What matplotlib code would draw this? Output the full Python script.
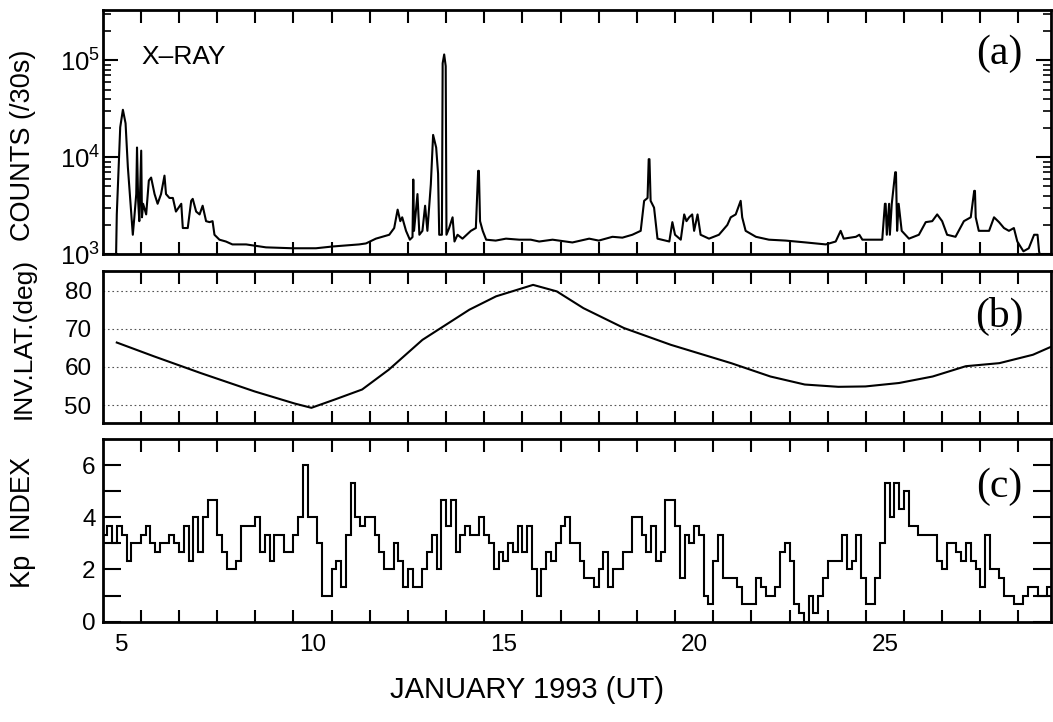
import numpy as np
import matplotlib
matplotlib.use("Agg")
import matplotlib.pyplot as plt
from matplotlib.ticker import FixedLocator, LogLocator, NullFormatter

plt.rcParams['font.family'] = ['Liberation Sans', 'DejaVu Sans']

# --- (a) X-ray counts per 30 s ---
xr_day = [4.85, 4.87, 4.96, 5.03, 5.10, 5.16, 5.25, 5.29, 5.33, 5.38, 5.40, 5.43, 5.46,
          5.51, 5.53, 5.56, 5.64, 5.71, 5.77, 5.86, 5.94, 6.03, 6.12, 6.16, 6.25, 6.34,
          6.42, 6.56, 6.60, 6.73, 6.82, 6.86, 6.95, 7.04, 7.12, 7.21, 7.30, 7.38, 7.43,
          7.56, 7.73, 7.90, 8.26, 8.78, 9.48, 10.09, 10.53, 11.22,
          11.40, 11.66, 12.01, 12.14, 12.23, 12.30, 12.35, 12.45, 12.55, 12.62, 12.64, 12.66,
          12.75, 12.80, 12.88, 12.95, 13.01, 13.10, 13.16, 13.24, 13.29, 13.32, 13.39,
          13.41, 13.45, 13.49, 13.51, 13.58, 13.67, 13.72, 13.80, 13.93, 14.15, 14.28,
          14.34, 14.36, 14.39, 14.46, 14.55, 14.80, 15.07, 15.42, 15.72, 15.94, 16.29,
          16.81, 17.25, 17.50, 17.86, 18.12, 18.38, 18.60, 18.69, 18.78, 18.81, 18.83,
          18.86, 18.95, 19.04, 19.35, 19.43, 19.50, 19.65, 19.74, 19.80, 19.87, 19.95,
          20.00, 20.09, 20.17, 20.39, 20.65, 20.87, 20.96, 21.09, 21.22, 21.26, 21.35,
          21.62, 21.96, 22.40, 22.93, 23.45, 23.71, 23.84, 23.92, 24.24, 24.33, 24.41,
          24.93, 25.00, 25.02, 25.05, 25.11, 25.13, 25.18, 25.27, 25.29, 25.32, 25.36,
          25.44, 25.63, 25.89, 26.07, 26.24, 26.37, 26.50, 26.63, 26.85, 27.07, 27.25,
          27.34, 27.36, 27.38, 27.46, 27.73, 27.86, 27.99, 28.12, 28.25, 28.38, 28.47,
          28.55, 28.63, 28.77, 28.91, 29.00, 29.04, 29.08]
xr_cnt = [900, 2570, 20400, 30900, 22400, 7940, 2570, 1585, 2400, 4170, 12600, 3550, 2190,
          11700, 2400, 3310, 2570, 5750, 6170, 4170, 3310, 4170, 6460, 4170, 3800, 3800,
          2750, 3310, 1860, 1860, 3550, 3720, 2750, 2570, 3160, 2190, 2140, 2190, 1585,
          1410, 1350, 1260, 1260, 1175, 1150, 1150, 1200, 1260,
          1290, 1445, 1585, 1860, 2880, 2190, 2400, 1740, 1410, 1500, 5890, 1740,
          4170, 1585, 1740, 3160, 1740, 5250, 17000, 12600, 6760, 1585, 1585,
          93300, 115000, 87100, 1585, 1860, 2400, 1350, 1585, 1445, 1740, 1860,
          7240, 7240, 2190, 1740, 1410, 1380, 1445, 1410, 1410, 1350, 1410,
          1320, 1445, 1380, 1510, 1480, 1585, 1740, 3550, 3800, 9550, 9550,
          3550, 3020, 1445, 1350, 2140, 1585, 1410, 2570, 2190, 2400, 2570,
          1740, 2570, 1585, 1445, 1585, 2000, 2400, 2570, 3550, 2400, 1740,
          1510, 1410, 1380, 1320, 1260, 1350, 1740, 1445, 1510, 1585, 1410,
          1410, 3310, 3310, 1585, 3310, 1585, 3310, 7000, 7000, 1740, 3310,
          1740, 1445, 1585, 2140, 2190, 2570, 2190, 1585, 1510, 2190, 2400,
          4500, 4500, 2400, 1740, 1740, 2400, 2140, 1860, 1740, 1860, 1350,
          1200, 1070, 1150, 1585, 1585, 1070, 900]

# --- (b) invariant latitude (deg) ---
il_day = [4.87, 5.84, 7.07, 8.48, 9.54, 9.97, 10.59, 11.30, 12.00, 12.88, 14.11, 14.81,
          15.78, 16.40, 17.10, 18.16, 19.39, 20.97, 22.00, 22.90, 23.78, 24.49, 25.37,
          26.25, 27.12, 28.00, 28.88, 29.38]
il_deg = [66.4, 62.8, 58.4, 53.6, 50.4, 49.3, 51.5, 54.1, 59.3, 67.1, 75.0, 78.5,
          81.5, 79.8, 75.4, 70.2, 65.8, 61.0, 57.5, 55.4, 54.8, 54.9, 55.8,
          57.5, 60.2, 61.0, 63.2, 65.4]

# --- (c) 3-hourly Kp from 5 Jan 00 UT ---
kp = [3.33, 3.67, 3.0, 3.67, 3.33, 2.33, 3.0, 3.0, 3.33, 3.67, 3.0, 2.67, 3.0, 3.0, 3.33, 3.0,
      2.67, 3.67, 2.33, 4.0, 2.67, 4.0, 4.67, 4.67, 3.33, 2.67, 2.0, 2.0, 2.33, 3.67, 3.67, 3.67,
      4.0, 2.67, 3.33, 2.33, 3.33, 3.33, 2.67, 2.67, 3.33, 4.0, 6.0, 4.0, 4.0, 3.0, 1.0, 1.0,
      2.0, 2.33, 1.33, 3.33, 5.33, 4.0, 3.67, 4.0, 4.0, 3.33, 2.67, 2.0, 2.0, 3.0, 2.33, 1.33,
      2.0, 1.33, 1.33, 2.0, 2.67, 3.33, 2.0, 4.67, 3.67, 4.67, 2.67, 3.33, 3.67, 3.33, 3.33, 4.0,
      3.33, 3.0, 2.0, 2.67, 2.33, 3.0, 2.67, 3.67, 2.67, 3.67, 2.0, 1.0, 2.0, 2.67, 2.33, 3.0,
      3.67, 4.0, 3.0, 3.0, 2.33, 1.67, 1.67, 1.33, 2.0, 2.67, 1.33, 2.0, 2.0, 2.67, 2.67, 4.0,
      4.0, 3.33, 2.67, 3.67, 2.33, 2.67, 4.67, 4.67, 3.67, 1.67, 3.33, 3.0, 3.67, 3.33, 1.0, 0.67,
      2.33, 3.33, 1.67, 1.67, 1.67, 1.33, 0.67, 0.67, 0.67, 1.67, 1.33, 1.0, 1.0, 1.33, 2.67, 3.0,
      2.33, 0.67, 0.33, 0.0, 1.0, 0.33, 1.0, 1.67, 2.33, 2.33, 2.33, 3.33, 2.0, 2.33, 3.33, 1.67,
      0.67, 0.67, 1.67, 3.0, 5.33, 4.0, 5.33, 4.33, 5.0, 3.67, 3.67, 3.33, 3.33, 3.33, 3.33, 2.33,
      2.0, 3.0, 3.0, 2.67, 2.33, 3.0, 2.33, 2.0, 1.33, 3.33, 2.0, 2.0, 1.67, 1.0, 1.0, 0.67,
      0.67, 1.0, 1.33, 1.33, 1.0, 1.0, 1.33]
kp_start = 4.5
day_labels = [5, 10, 15, 20, 25]

fig = plt.figure(figsize=(10.53, 7.22), dpi=100)
L, W = 0.0975, 0.9005
ax_a = fig.add_axes([L, 0.648, W, 0.338])
ax_b = fig.add_axes([L, 0.414, W, 0.211])
ax_c = fig.add_axes([L, 0.139, W, 0.253])

lw = 1.5
ax_a.plot(xr_day, xr_cnt, color='black', lw=lw)
ax_b.plot(il_day, il_deg, color='black', lw=lw)
edges = kp_start + np.arange(len(kp) + 1) / 8.0
ax_c.stairs(kp, edges, baseline=None, color='black', lw=lw)

day_ticks = np.arange(5.5, 29.0, 1.0)
for ax in (ax_a, ax_b, ax_c):
    ax.set_xlim(4.5, 29.35)
    ax.xaxis.set_major_locator(FixedLocator(day_labels))
    ax.xaxis.set_minor_locator(FixedLocator(day_ticks))
    ax.tick_params(axis='x', which='major', length=0, labelsize=17.5, pad=9)
    ax.tick_params(axis='x', which='minor', direction='in', length=9, width=1.5,
                   top=True, bottom=True)
    for s in ax.spines.values():
        s.set_linewidth(2)
for ax in (ax_a, ax_b):
    ax.tick_params(axis='x', which='major', labelbottom=False)

# panel (a)
ax_a.set_yscale('log')
ax_a.set_ylim(1e3, 3.3e5)
ax_a.yaxis.set_major_locator(FixedLocator([1e3, 1e4, 1e5]))
ax_a.yaxis.set_minor_locator(LogLocator(base=10, subs=np.arange(2, 10)))
ax_a.yaxis.set_minor_formatter(NullFormatter())
ax_a.tick_params(axis='y', which='major', direction='in', length=11, width=1.5,
                 left=True, right=True, labelsize=18.5, pad=2)
ax_a.tick_params(axis='y', which='minor', direction='in', length=6, width=1.2,
                 left=True, right=True)
ax_a.text(0.041, 0.807, 'X–RAY', transform=ax_a.transAxes, fontsize=19,
          ha='left', va='center')

# panel (b)
ax_b.set_ylim(45.3, 85.2)
ax_b.set_yticks([50, 60, 70, 80])
ax_b.tick_params(axis='y', length=0, labelsize=17.5, pad=8)
ax_b.grid(axis='y', linestyle=(0, (1.5, 2.5)), color='#555555', lw=0.8)

# panel (c)
ax_c.set_ylim(0, 7)
ax_c.set_yticks([0, 2, 4, 6])
ax_c.yaxis.set_minor_locator(FixedLocator([1, 3, 5]))
ax_c.tick_params(axis='y', which='both', direction='in', length=13, width=1.5,
                 left=True, right=True)
ax_c.tick_params(axis='y', which='major', labelsize=17.5, pad=5)

for ax, lab, yy in ((ax_a, '(a)', 0.82), (ax_b, '(b)', 0.70), (ax_c, '(c)', 0.74)):
    ax.text(0.946, yy, lab, transform=ax.transAxes, fontsize=30,
            family='Liberation Serif', ha='center', va='center')

fig.text(0.022, 1 - 145 / 722, 'COUNTS (/30s)', rotation=90, fontsize=19.5,
         ha='center', va='center')
fig.text(0.022, 1 - 338 / 722, 'INV.LAT.(deg)', rotation=90, fontsize=19,
         ha='center', va='center')
fig.text(0.022, 1 - 522 / 722, 'Kp  INDEX', rotation=90, fontsize=19.5,
         ha='center', va='center')
fig.text(0.5, 1 - 690 / 722, 'JANUARY 1993 (UT)', fontsize=21,
         ha='center', va='center')

fig.savefig('out.png', dpi=100)
